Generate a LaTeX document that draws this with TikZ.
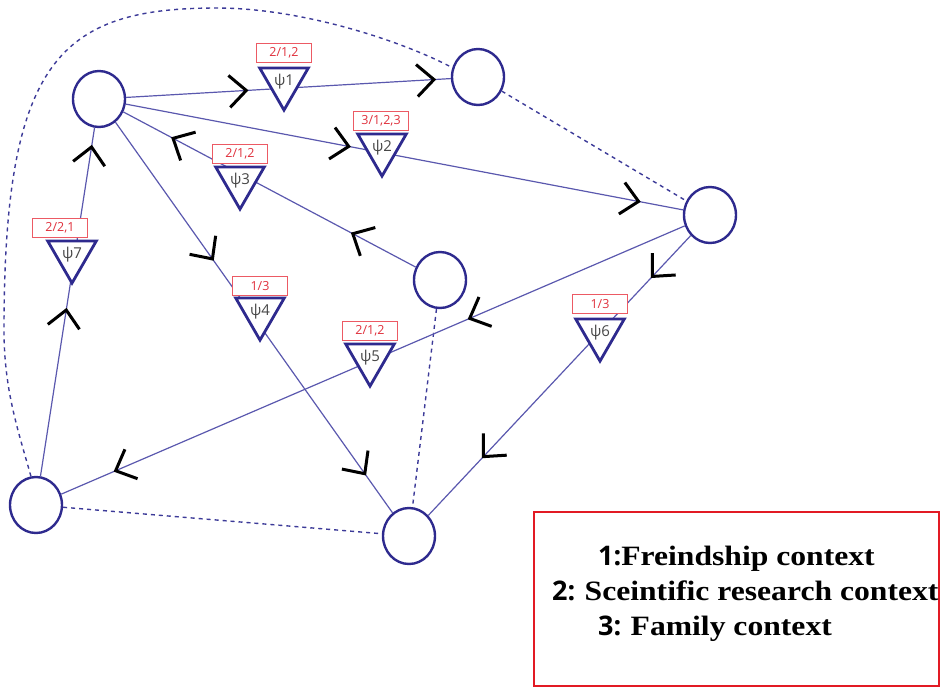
\documentclass[tikz,border=0pt]{standalone}
\usepackage{fontspec}
\setmainfont{Open Sans}
\newfontfamily\legendserif[FakeStretch=1.13]{Liberation Serif}
\newfontfamily\legendsans{Open Sans}
\usetikzlibrary{shapes.geometric,decorations.markings}

\definecolor{nodeblue}{HTML}{2E2A8E}
\definecolor{edgeblue}{HTML}{5A58AE}
\definecolor{dashblue}{HTML}{3C3A98}
\definecolor{tagred}{HTML}{EC5A64}
\definecolor{tagtext}{HTML}{E0303C}
\definecolor{legendred}{HTML}{E21A24}

% open chevron placed on a link to show its direction
\newcommand\chevronmark{\draw[black, line width=3pt, line cap=butt, line join=miter] (-17pt,16pt) -- (0pt,0pt) -- (-17pt,-16pt);}

\tikzset{
  actor/.style={ellipse, draw=nodeblue, line width=2.4pt, fill=white,
    minimum width=52pt, minimum height=56pt, inner sep=0pt},
  link/.style={draw=edgeblue, line width=1.2pt},
  tie/.style={draw=dashblue, line width=1.4pt, dash pattern=on 4pt off 4pt},
  chevrons/.style 2 args={postaction={decorate, decoration={markings,
    mark=at position #1 with {\chevronmark},
    mark=at position #2 with {\chevronmark}}}},
  psibox/.style={regular polygon, regular polygon sides=3, shape border rotate=180,
    draw=nodeblue, line width=2.8pt, fill=white, minimum size=44pt, inner sep=0pt,
    text=black!72, font=\fontsize{15}{15}\selectfont},
  tagbox/.style={draw=tagred, line width=1.3pt, fill=white, minimum width=55pt,
    minimum height=19pt, inner sep=0pt, text=tagtext, font=\fontsize{12.5}{12.5}\selectfont},
  legendline/.style={anchor=base west, inner sep=0pt},
}

\begin{document}
\begin{tikzpicture}[x=1pt, y=-1pt]
\useasboundingbox (0,0) rectangle (940,686);

% actors
\node[actor] (A) at (99,99) {};
\node[actor] (B) at (478,77) {};
\node[actor] (C) at (710,215) {};
\node[actor] (D) at (440,280) {};
\node[actor] (E) at (36,505) {};
\node[actor] (F) at (409,536) {};

% weak ties
\draw[tie] (E.100) .. controls (18,430) and (4,390) .. (4,330)
  .. controls (4,60) and (60,8) .. (217,8)
  .. controls (300,8) and (400,40) .. (B.160);
\draw[tie] (B) -- (C);
\draw[tie] (E) -- (F);
\draw[tie] (D) -- (F);

% directed links
\draw[link, chevrons={0.37}{0.948}] (A) -- (B);
\draw[link, chevrons={0.40}{0.92}] (A) -- (C);
\draw[link, chevrons={0.215}{0.83}] (D) -- (A);
\draw[link, chevrons={0.35}{0.90}] (A) -- (F);
\draw[link, chevrons={0.345}{0.913}] (C) -- (E);
\draw[link, chevrons={0.146}{0.79}] (C) -- (F);
\draw[link, chevrons={0.477}{0.945}] (E) -- (A);

% relation markers with their context tags
\node[psibox] (p1) at (284,82) {ψ1};
\node[tagbox] (t1) at (284,53) {2/1,2};
\node[psibox] (p2) at (382,148) {ψ2};
\node[tagbox] (t2) at (381,121) {3/1,2,3};
\node[psibox] (p3) at (240,181) {ψ3};
\node[tagbox] (t3) at (240,154) {2/1,2};
\node[psibox] (p4) at (260,312) {ψ4};
\node[tagbox] (t4) at (260,286) {1/3};
\node[psibox] (p5) at (370,358) {ψ5};
\node[tagbox] (t5) at (370,331) {2/1,2};
\node[psibox] (p6) at (600,333) {ψ6};
\node[tagbox] (t6) at (600,304) {1/3};
\node[psibox] (p7) at (72,255) {ψ7};
\node[tagbox] (t7) at (60,228) {2/2,1};

% legend
\node[draw=legendred, line width=2pt, minimum width=405pt, minimum height=174pt,
  inner sep=0pt, anchor=north west] (legend) at (533,511) {};
\node[legendline] (l1) at (598,565)
  {\legendsans\bfseries\fontsize{27}{27}\selectfont 1:\legendserif\fontsize{28}{28}\selectfont Freindship context};
\node[legendline] (l2) at (552,600)
  {\legendsans\bfseries\fontsize{27}{27}\selectfont 2: \legendserif\fontsize{28}{28}\selectfont Sceintific research context};
\node[legendline] (l3) at (598,635)
  {\legendsans\bfseries\fontsize{27}{27}\selectfont 3: \legendserif\fontsize{28}{28}\selectfont Family context};
\end{tikzpicture}
\end{document}
